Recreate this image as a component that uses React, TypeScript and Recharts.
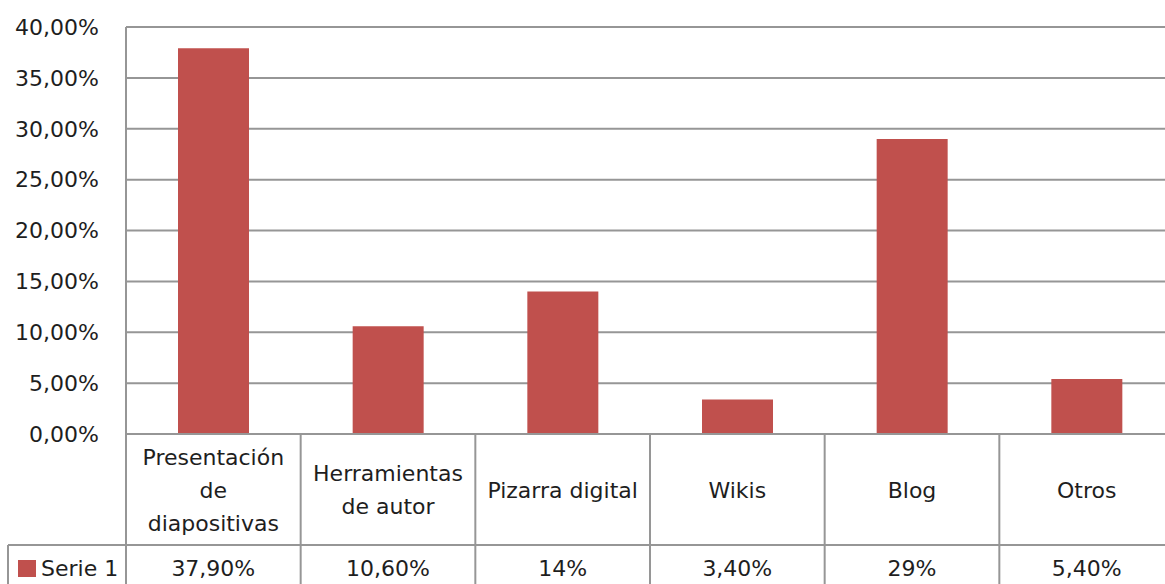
import React from "react";
import { BarChart, Bar, XAxis, YAxis, CartesianGrid } from "recharts";

const categories = [
  "Presentación\nde\ndiapositivas",
  "Herramientas\nde autor",
  "Pizarra digital",
  "Wikis",
  "Blog",
  "Otros",
];
const serie1 = [37.9, 10.6, 14, 3.4, 29, 5.4];
const yTicks = [0, 5, 10, 15, 20, 25, 30, 35, 40];
const seriesName = "Serie 1";

const data = categories.map((c, i) => ({ name: c, value: serie1[i] }));

const BAR = "#C0504D";
const GRID = "#969696";
const LW = 2;
const TEXT = "#1e1e1e";
const FONT = "'DejaVu Sans', sans-serif";

const pct = (v: number) =>
  Number.isInteger(v) ? `${v}%` : `${v.toFixed(2).replace(".", ",")}%`;

// data table under the plot, drawn one column per tick
const TableTick = (props: any) => {
  const { x, y, payload, index, width } = props;
  const band = (width || 1048) / categories.length;
  const left = x - band / 2;
  const right = x + band / 2;
  const rowY = y + 111;
  const bottom = y + 170;
  const lines = String(payload.value).split("\n");
  const lh = 33;
  const first = y + 56 - ((lines.length - 1) * lh) / 2;
  return (
    <g>
      <line x1={left} y1={y} x2={left} y2={bottom} stroke={GRID} strokeWidth={LW} />
      {index === categories.length - 1 && (
        <line x1={right} y1={y} x2={right} y2={bottom} stroke={GRID} strokeWidth={LW} />
      )}
      <line x1={left} y1={rowY} x2={right} y2={rowY} stroke={GRID} strokeWidth={LW} />
      {lines.map((l, k) => (
        <text
          key={k}
          x={x}
          y={first + k * lh}
          textAnchor="middle"
          dominantBaseline="central"
          fill={TEXT}
          fontSize={22}
          fontFamily={FONT}
        >
          {l}
        </text>
      ))}
      <text
        x={x}
        y={y + 134}
        textAnchor="middle"
        dominantBaseline="central"
        fill={TEXT}
        fontSize={22}
        fontFamily={FONT}
      >
        {pct(serie1[index])}
      </text>
      {index === 0 && (
        <g>
          <line x1={left - 118} y1={rowY} x2={left} y2={rowY} stroke={GRID} strokeWidth={LW} />
          <line x1={left - 118} y1={rowY} x2={left - 118} y2={bottom} stroke={GRID} strokeWidth={LW} />
          <rect x={left - 108} y={y + 126} width={18} height={17} fill={BAR} />
          <text
            x={left - 85}
            y={y + 134}
            dominantBaseline="central"
            fill={TEXT}
            fontSize={22}
            fontFamily={FONT}
          >
            {seriesName}
          </text>
        </g>
      )}
    </g>
  );
};

export default function App() {
  return (
    <div
      style={{
        position: "absolute",
        left: 0,
        top: 0,
        width: 1165,
        height: 584,
        overflow: "hidden",
        background: "#fff",
      }}
    >
      <BarChart
        width={1180}
        height={600}
        data={data}
        margin={{ top: 27, right: 6, bottom: 0, left: 0 }}
        barSize={71}
      >
        <CartesianGrid vertical={false} stroke={GRID} strokeWidth={LW} />
        <YAxis
          width={126}
          domain={[0, 40]}
          ticks={yTicks}
          tickFormatter={(v: number) => `${v.toFixed(2).replace(".", ",")}%`}
          tickLine={false}
          tickSize={0}
          tickMargin={27}
          axisLine={{ stroke: GRID, strokeWidth: LW }}
          tick={{ fill: TEXT, fontSize: 22, fontFamily: FONT }}
        />
        <XAxis
          dataKey="name"
          height={166}
          interval={0}
          tickLine={false}
          tickSize={0}
          tickMargin={0}
          axisLine={{ stroke: GRID, strokeWidth: LW }}
          tick={<TableTick />}
        />
        <Bar dataKey="value" fill={BAR} isAnimationActive={false} />
      </BarChart>
    </div>
  );
}
